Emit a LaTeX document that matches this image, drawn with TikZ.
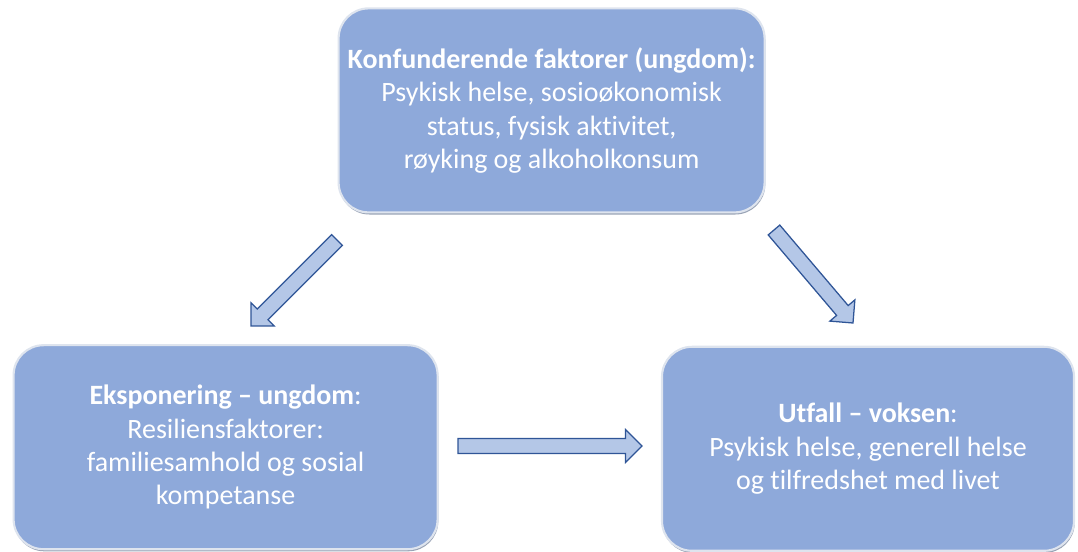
\documentclass[tikz,border=0pt]{standalone}
\usepackage{fontspec}
\setmainfont{Carlito}[Ligatures={TeX,NoCommon,NoContextual}, Contextuals=NoAlternate]
\usepackage{xcolor}
\usepackage{tikz}
\usetikzlibrary{shadows,calc}

\definecolor{boxblue}{RGB}{142,169,218}
\definecolor{boxedge}{RGB}{222,228,238}
\definecolor{arrowfill}{RGB}{180,199,231}
\definecolor{arrowedge}{RGB}{47,85,151}

\tikzset{
    factorbox/.style={rounded corners=0.75cm, fill=boxblue, draw=boxedge, line width=1.5pt,
        drop shadow={shadow xshift=0.5pt, shadow yshift=-1.5pt, opacity=0.45, fill=arrowedge!60!black},
        text=white, align=center, minimum height=5.1cm,
        font=\fontsize{19.9}{23.7}\selectfont},
    blockarrow/.style={draw=arrowedge, fill=arrowfill, line width=0.9pt, line join=miter}
}

\newcommand{\blockarrow}[2]{
    \draw [blockarrow] let \p1 = ($(#2)-(#1)$), \n1 = {atan2(\y1,\x1)} in
        ($(#1)+(\n1+90:0.19cm)$)
        -- ($(#2)+(\n1:-0.41cm)+(\n1+90:0.19cm)$)
        -- ($(#2)+(\n1:-0.41cm)+(\n1+90:0.41cm)$)
        -- (#2)
        -- ($(#2)+(\n1:-0.41cm)+(\n1-90:0.41cm)$)
        -- ($(#2)+(\n1:-0.41cm)+(\n1-90:0.19cm)$)
        -- ($(#1)+(\n1-90:0.19cm)$) -- cycle;
}

\begin{document}
\begin{tikzpicture}
        \useasboundingbox (0, 0) rectangle (26.95, 13.8);
        \node [factorbox, minimum width=10.65cm] (conf) at (13.79, 11.04)
            {\textbf{Konfunderende faktorer (ungdom):}\\Psykisk helse, sosioøkonomisk\\status, fysisk aktivitet,\\røyking og alkoholkonsum};
        \node [factorbox, minimum width=10.6cm] (expo) at (5.64, 2.62)
            {\textbf{Eksponering -- ungdom}:\\Resiliensfaktorer:\\familiesamhold og sosial\\kompetanse};
        \node [factorbox, minimum width=10.3cm] (outc) at (21.7, 2.58)
            {\textbf{Utfall -- voksen}:\\Psykisk helse, generell helse\\og tilfredshet med livet};
        \coordinate (confL) at (8.425, 7.8);
        \coordinate (expoT) at (6.275, 5.65);
        \coordinate (confR) at (19.35, 8.05);
        \coordinate (outcT) at (21.325, 5.725);
        \coordinate (expoR) at (11.45, 2.65);
        \coordinate (outcL) at (16.05, 2.65);
        \blockarrow{confL}{expoT}
        \blockarrow{confR}{outcT}
        \blockarrow{expoR}{outcL}
    \end{tikzpicture}
\end{document}
